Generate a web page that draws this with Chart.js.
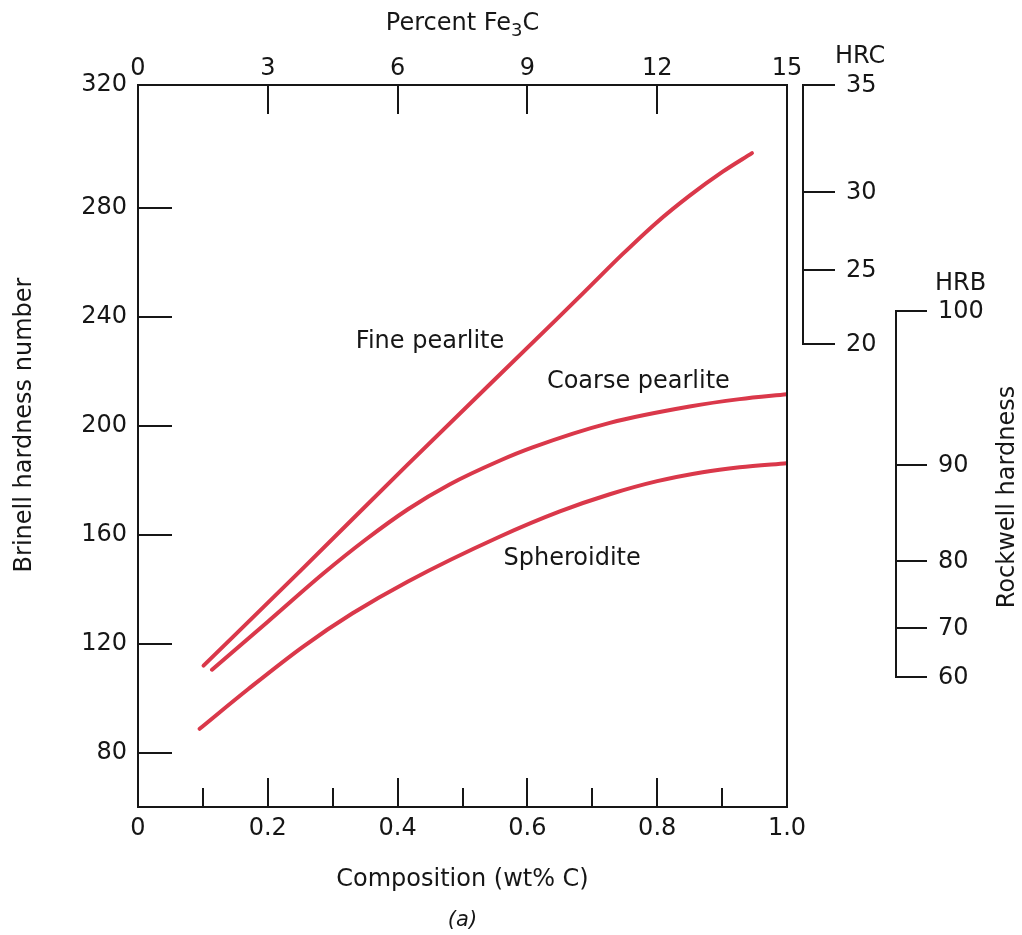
<!DOCTYPE html>
<html>
<head>
<meta charset="utf-8">
<script src="https://cdn.jsdelivr.net/npm/chart.js@4.4.1/dist/chart.umd.min.js"></script>
<style>
  html, body { margin: 0; padding: 0; background: #fff; }
  #wrap { width: 1022px; height: 935px; position: relative; }
</style>
</head>
<body>
<div id="wrap"><canvas id="chart"></canvas></div>
<script>
// ---- axes ----
const compositionTicks = [0, 0.1, 0.2, 0.3, 0.4, 0.5, 0.6, 0.7, 0.8, 0.9, 1.0];
const fe3cTicks = [0, 3, 6, 9, 12, 15];
const brinellTicks = [80, 120, 160, 200, 240, 280];
const brinellRange = [60, 325];
const brinellTopLabel = '320';

// Rockwell scales, placed at their Brinell equivalents
const hrcLabels = [35, 30, 25, 20];
const hrcAtBrinell = [325, 285.7, 257.1, 229.9];
const hrbLabels = [100, 90, 80, 70, 60];
const hrbAtBrinell = [242.1, 185.4, 150.2, 125.7, 107.6];

// ---- hardness curves (wt% C vs Brinell) ----
const fineC  = [0.101, 0.249, 0.415, 0.644, 0.696, 0.747, 0.798, 0.850, 0.901, 0.946];
const fineHB = [111.9, 146.4, 185.6, 238.8, 251.0, 263.0, 274.3, 284.4, 293.2, 300.0];

const coarseC  = [0.114, 0.200, 0.285, 0.350, 0.416, 0.480, 0.557, 0.608, 0.727, 0.850, 0.927, 1.0];
const coarseHB = [110.4, 128.0, 145.6, 158.0, 169.3, 178.4, 187.1, 192.0, 201.0, 207.0, 209.7, 211.5];

const spheroC  = [0.095, 0.170, 0.254, 0.330, 0.416, 0.557, 0.650, 0.727, 0.800, 0.870, 0.927, 1.0];
const spheroHB = [88.7, 103.3, 118.8, 131.0, 142.8, 159.2, 168.5, 174.8, 179.6, 182.9, 184.7, 186.2];

const curveLabels  = ['Fine pearlite', 'Coarse pearlite', 'Spheroidite'];
const curveLabelC  = [0.450, 0.771, 0.669];
const curveLabelHB = [230.7, 216.0, 151.1];

const RED = 'rgb(218, 56, 74)';
const INK = '#161616';
const FAMILY = '"DejaVu Sans", sans-serif';
const font = (size, style) => `${style ? style + ' ' : ''}${size}px ${FAMILY}`;

const toPoints = (xs, ys) => xs.map((x, i) => ({ x, y: ys[i] }));

function curve(label, xs, ys) {
  return {
    label,
    data: toPoints(xs, ys),
    borderColor: RED,
    borderWidth: 4,
    borderCapStyle: 'round',
    borderJoinStyle: 'round',
    pointRadius: 0,
    fill: false,
    cubicInterpolationMode: 'monotone',
    xAxisID: 'x',
    yAxisID: 'y'
  };
}

// Frame, inward tick marks, Rockwell axes and in-plot annotations
const decorations = {
  id: 'decorations',
  afterDraw(chart) {
    const { ctx, chartArea: a, scales } = chart;
    const x = scales.x, x2 = scales.x2, y = scales.y;
    ctx.save();
    ctx.strokeStyle = INK;
    ctx.lineWidth = 2;
    ctx.lineCap = 'butt';

    // frame
    ctx.strokeRect(a.left, a.top, a.right - a.left, a.bottom - a.top);

    ctx.beginPath();
    // bottom: major ticks at even tenths, minor in between
    compositionTicks.forEach(v => {
      if (v === 0 || v === 1) return;
      const px = Math.round(x.getPixelForValue(v));
      const major = Math.round(v * 10) % 2 === 0;
      ctx.moveTo(px, a.bottom);
      ctx.lineTo(px, a.bottom - (major ? 29 : 19));
    });
    // top Fe3C ticks
    fe3cTicks.forEach(v => {
      if (v === 0 || v === 15) return;
      const px = Math.round(x2.getPixelForValue(v));
      ctx.moveTo(px, a.top);
      ctx.lineTo(px, a.top + 29);
    });
    // left Brinell ticks
    brinellTicks.forEach(v => {
      const py = Math.round(y.getPixelForValue(v));
      ctx.moveTo(a.left, py);
      ctx.lineTo(a.left + 34, py);
    });
    ctx.stroke();

    // Rockwell axes
    const drawRockwell = (axisX, tickLen, labels, positions, name, nameX, nameY) => {
      const ys = positions.map(v => Math.round(y.getPixelForValue(v)));
      ctx.beginPath();
      ctx.moveTo(axisX, ys[0] - 1);
      ctx.lineTo(axisX, ys[ys.length - 1] + 1);
      ys.forEach(py => { ctx.moveTo(axisX - 1, py); ctx.lineTo(axisX + tickLen, py); });
      ctx.stroke();
      ctx.fillStyle = INK;
      ctx.font = font(24);
      ctx.textAlign = 'left';
      ctx.textBaseline = 'middle';
      labels.forEach((l, i) => ctx.fillText(String(l), axisX + tickLen + 11, ys[i] + 1));
      ctx.fillText(name, nameX, nameY);
    };
    drawRockwell(a.right + 16, 32, hrcLabels, hrcAtBrinell, 'HRC', a.right + 48, 57);
    drawRockwell(a.right + 109, 31, hrbLabels, hrbAtBrinell, 'HRB', a.right + 148, 284);

    // curve names
    ctx.fillStyle = INK;
    ctx.font = font(24);
    ctx.textAlign = 'center';
    ctx.textBaseline = 'middle';
    curveLabels.forEach((t, i) => {
      ctx.fillText(t, x.getPixelForValue(curveLabelC[i]), y.getPixelForValue(curveLabelHB[i]));
    });

    // top axis title with subscript
    const cx = (a.left + a.right) / 2;
    ctx.textAlign = 'left';
    ctx.textBaseline = 'alphabetic';
    const partA = 'Percent Fe', partB = '3', partC = 'C';
    ctx.font = font(24);
    const wA = ctx.measureText(partA).width, wC = ctx.measureText(partC).width;
    ctx.font = font(18);
    const wB = ctx.measureText(partB).width;
    let tx = cx - (wA + wB + wC) / 2;
    const base = 30;
    ctx.font = font(24);
    ctx.fillText(partA, tx, base); tx += wA;
    ctx.font = font(18);
    ctx.fillText(partB, tx, base + 6); tx += wB;
    ctx.font = font(24);
    ctx.fillText(partC, tx, base);

    // vertical axis titles
    const vertical = (text, vx, vy) => {
      ctx.save();
      ctx.translate(vx, vy);
      ctx.rotate(-Math.PI / 2);
      ctx.textAlign = 'center';
      ctx.textBaseline = 'middle';
      ctx.font = font(24);
      ctx.fillText(text, 0, 0);
      ctx.restore();
    };
    vertical('Brinell hardness number', 25, 425);
    vertical('Rockwell hardness', 1008, 497);

    // panel tag
    ctx.font = font(21, 'italic');
    ctx.textAlign = 'center';
    ctx.textBaseline = 'middle';
    ctx.fillText('(a)', cx, 921);
    ctx.restore();
  }
};

Chart.defaults.font.family = FAMILY;
Chart.defaults.color = INK;

new Chart(document.getElementById('chart'), {
  type: 'line',
  data: {
    datasets: [
      curve('Fine pearlite', fineC, fineHB),
      curve('Coarse pearlite', coarseC, coarseHB),
      curve('Spheroidite', spheroC, spheroHB)
    ]
  },
  plugins: [decorations],
  options: {
    responsive: true,
    maintainAspectRatio: false,
    animation: false,
    layout: { padding: { left: 0, top: 0, bottom: 0, right: 235 } },
    plugins: { legend: { display: false }, tooltip: { enabled: false } },
    scales: {
      x: {
        type: 'linear',
        position: 'bottom',
        min: 0, max: 1,
        afterBuildTicks: s => { s.ticks = compositionTicks.map(v => ({ value: v })); },
        afterFit: s => { s.height = 128; },
        grid: { display: false, drawTicks: false },
        border: { display: false },
        ticks: {
          autoSkip: false, maxRotation: 0, padding: 7,
          font: { size: 24 },
          callback: v => {
            const k = Math.round(v * 10);
            if (k % 2) return '';
            return k === 0 ? '0' : v.toFixed(1);
          }
        },
        title: {
          display: true, text: 'Composition (wt% C)',
          font: { size: 24 }, padding: { top: 0, bottom: 41 }
        }
      },
      x2: {
        type: 'linear',
        position: 'top',
        min: 0, max: 15,
        afterBuildTicks: s => { s.ticks = fe3cTicks.map(v => ({ value: v })); },
        afterFit: s => { s.height = 85; },
        grid: { display: false, drawTicks: false },
        border: { display: false },
        ticks: { autoSkip: false, maxRotation: 0, padding: 2, font: { size: 24 } }
      },
      y: {
        type: 'linear',
        position: 'left',
        min: brinellRange[0], max: brinellRange[1],
        afterBuildTicks: s => {
          s.ticks = brinellTicks.concat([brinellRange[1]]).map(v => ({ value: v }));
        },
        afterFit: s => { s.width = 138; },
        grid: { display: false, drawTicks: false },
        border: { display: false },
        ticks: {
          autoSkip: false, padding: 11,
          font: { size: 24 },
          callback: v => (v === brinellRange[1] ? brinellTopLabel : String(v))
        }
      }
    }
  }
});
</script>
</body>
</html>
